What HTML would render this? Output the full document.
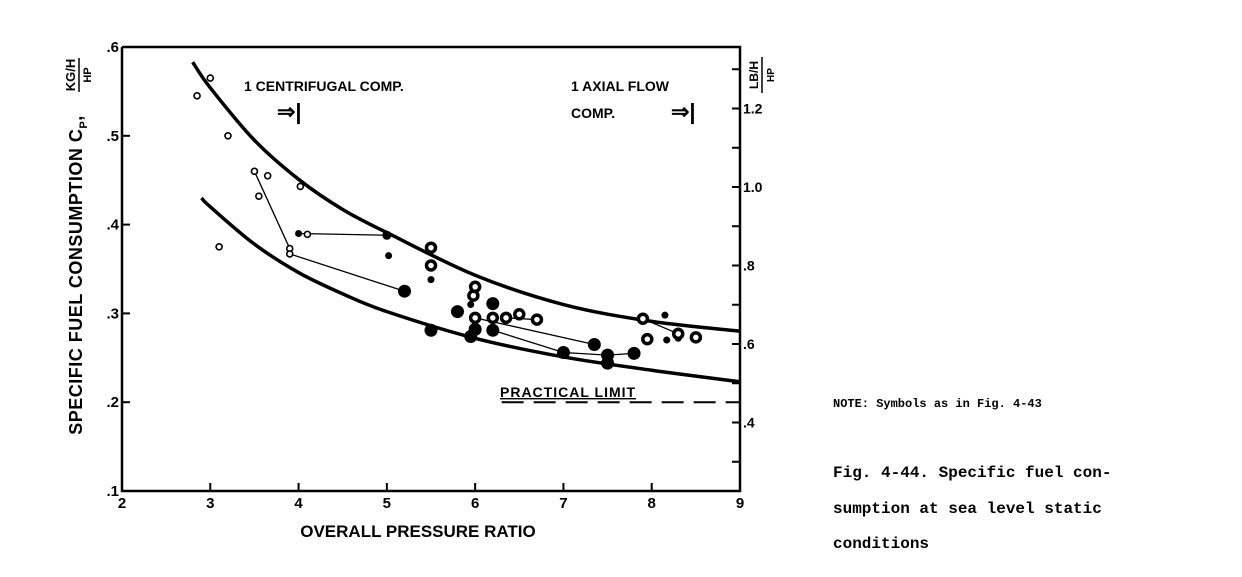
<!DOCTYPE html>
<html><head><meta charset="utf-8"><style>
body{margin:0;background:#fff;}
svg{display:block;font-family:"Liberation Sans",sans-serif;}
</style></head><body>
<svg id="chart" width="1242" height="577" viewBox="0 0 1242 577">
<g id="plot"></g>
<text x="418" y="537" font-size="17" font-weight="bold" text-anchor="middle">OVERALL PRESSURE RATIO</text>
<g transform="translate(82,275) rotate(-90)">
<text x="0" y="0" font-size="18" font-weight="bold" text-anchor="middle" letter-spacing="0.5">SPECIFIC FUEL CONSUMPTION C<tspan font-size="11" dy="5">P</tspan><tspan dy="-5">, </tspan></text>
<text x="200" y="-7" font-size="13" font-weight="bold" text-anchor="middle">KG/H</text>
<line x1="183" y1="-3" x2="217" y2="-3" stroke="#000" stroke-width="1.5"/>
<text x="200" y="9" font-size="11" font-weight="bold" text-anchor="middle">HP</text>
</g>
<g transform="translate(765,75) rotate(-90)">
<text x="0" y="-7" font-size="12" font-weight="bold" text-anchor="middle">LB/H</text>
<line x1="-18" y1="-3" x2="18" y2="-3" stroke="#000" stroke-width="1.5"/>
<text x="0" y="9" font-size="10" font-weight="bold" text-anchor="middle">HP</text>
</g>
<text x="244" y="91" font-size="14" font-weight="bold">1 CENTRIFUGAL COMP.</text>
<text x="277" y="119" font-size="22" font-weight="bold">⇒|</text>
<text x="571" y="91" font-size="14" font-weight="bold">1 AXIAL FLOW</text>
<text x="571" y="118" font-size="14" font-weight="bold">COMP.</text>
<text x="671" y="119" font-size="22" font-weight="bold">⇒|</text>
<text x="500" y="397" font-size="14" font-weight="bold" letter-spacing="1" text-decoration="underline">PRACTICAL LIMIT</text>
<g font-family="'Liberation Mono',monospace" font-weight="bold">
<text x="833" y="407" font-size="12">NOTE: Symbols as in Fig. 4-43</text>
<text x="833" y="477" font-size="16">Fig. 4-44. Specific fuel con-</text>
<text x="833" y="513" font-size="16">sumption at sea level static</text>
<text x="833" y="548" font-size="16">conditions</text>
</g>
</svg>
<script>
const xTicks=[2,3,4,5,6,7,8,9];
const yTicks=[0.1,0.2,0.3,0.4,0.5,0.6];
const yTickLabels=[".1",".2",".3",".4",".5",".6"];
const rTicks=[0.3,0.4,0.5,0.6,0.7,0.8,0.9,1.0,1.1,1.2,1.3];
const rTickLabels={"0.4":".4","0.6":".6","0.8":".8","1.0":"1.0","1.2":"1.2"};
const upperX=[2.8,3,3.5,4,4.5,5,6,7,8,9];
const upperY=[0.583,0.554,0.495,0.451,0.417,0.391,0.343,0.31,0.291,0.28];
const lowerX=[2.9,3,3.5,4,4.5,5,6,7,8,9];
const lowerY=[0.43,0.42,0.378,0.346,0.322,0.302,0.272,0.251,0.236,0.223];
const limitY=0.2;
const ptX=[2.85,3.0,3.2,3.1,3.5,3.55,3.65,3.9,3.9,4.02,4.1, 4.0,5.02,5.5,5.95,8.15,8.17,8.3,8.3, 5.0,5.5,5.5,5.2,6.0,5.98,5.8,6.2,6.0,6.2,6.35,6.5,6.7,5.5,5.95,6.0,6.2,7.0,7.35,7.5,7.5,7.8,7.9,7.95,8.5,8.3];
const ptY=[0.545,0.565,0.50,0.375,0.46,0.432,0.455,0.373,0.367,0.443,0.389, 0.39,0.365,0.338,0.31,0.298,0.27,0.272,0.28, 0.388,0.374,0.354,0.325,0.33,0.32,0.302,0.311,0.295,0.295,0.295,0.299,0.293,0.281,0.274,0.282,0.281,0.256,0.265,0.253,0.244,0.255,0.294,0.271,0.273,0.277];
const ptType=["os","os","os","os","os","os","os","os","os","os","os", "fs","fs","fs","fs","fs","fs","fs","fs", "fm","ol","ol","fl","ol","ol","fl","fl","ol","ol","ol","ol","ol","fl","fl","fl","fl","fl","fl","fl","fl","fl","ol","ol","ol","ol"];
const links=[[[3.5,0.46],[3.9,0.373]],[[3.9,0.367],[5.2,0.325]],[[4.0,0.39],[5.0,0.388]],[[6.0,0.295],[7.35,0.265]],[[6.2,0.281],[7.0,0.256],[7.5,0.253],[7.8,0.255]],[[6.35,0.295],[6.7,0.293]],[[7.9,0.294],[8.3,0.277]]];

const X0=122,X1=740,Y0=491,Y1=47;
const sx=v=>X0+(v-2)/7*(X1-X0);
const sy=v=>Y0-(v-0.1)/0.5*(Y0-Y1);
const NS="http://www.w3.org/2000/svg";
const g=document.getElementById('plot');
function mk(t,a){const e=document.createElementNS(NS,t);for(const k in a)e.setAttribute(k,a[k]);g.appendChild(e);return e;}
const sry=v=>344-(v-0.6)/0.2*78.5;
let e=mk('path',{d:`M${X0},${Y1} V${Y0} H${X1} V${Y1} H${X0}`,fill:'none',stroke:'#000','stroke-width':2.5});


xTicks.forEach(v=>{
 let t=mk('line',{x1:sx(v),x2:sx(v),y1:Y0,y2:Y0-8,stroke:'#000','stroke-width':2});
 
 
 let l=mk('text',{x:sx(v),y:Y0+17,'font-size':15,'font-weight':'bold','text-anchor':'middle'});l.textContent=v;
 
 
});
yTicks.forEach((v,i)=>{
 let t=mk('line',{x1:X0,x2:X0+8,y1:sy(v),y2:sy(v),stroke:'#000','stroke-width':2});
 
 
 let l=mk('text',{x:X0-3,y:sy(v)+5,'font-size':15,'font-weight':'bold','text-anchor':'end'});l.textContent=yTickLabels[i];
 
 
});
rTicks.forEach(v=>{
 let t=mk('line',{x1:X1-8,x2:X1,y1:sry(v),y2:sry(v),stroke:'#000','stroke-width':2});
 
 
 const key=v.toFixed(1);
 if(rTickLabels[key]){let l=mk('text',{x:X1+3,y:sry(v)+5,'font-size':14,'font-weight':'bold'});l.textContent=rTickLabels[key];
 
 }
});
function spline(xs,ys){const p=xs.map((x,i)=>[sx(x),sy(ys[i])]);let d=`M${p[0][0]},${p[0][1]}`;
 for(let i=0;i<p.length-1;i++){const a=p[i-1]||p[i],b=p[i],c=p[i+1],n=p[i+2]||c;
 d+=` C${b[0]+(c[0]-a[0])/6},${b[1]+(c[1]-a[1])/6} ${c[0]-(n[0]-b[0])/6},${c[1]-(n[1]-b[1])/6} ${c[0]},${c[1]}`;}return d;}
e=mk('path',{d:spline(upperX,upperY),fill:'none',stroke:'#000','stroke-width':3.5});


e=mk('path',{d:spline(lowerX,lowerY),fill:'none',stroke:'#000','stroke-width':3.5});


e=mk('line',{x1:sx(6.3),x2:X1,y1:sy(limitY),y2:sy(limitY),stroke:'#000','stroke-width':2,'stroke-dasharray':'22,10'});


links.forEach(L=>{
 e=mk('polyline',{points:L.map(p=>sx(p[0])+','+sy(p[1])).join(' '),fill:'none',stroke:'#000','stroke-width':1.3});
 
 
});
ptX.forEach((x,i)=>{
 const t=ptType[i];let a;
 if(t=='os')a={r:3,fill:'#fff',stroke:'#000','stroke-width':1.6};
 else if(t=='fs')a={r:3.5,fill:'#000'};
 else if(t=='fm')a={r:4.5,fill:'#000'};
 else if(t=='ol')a={r:4.5,fill:'#fff',stroke:'#000','stroke-width':3.5};
 else a={r:6.5,fill:'#000'};
 a.cx=sx(x);a.cy=sy(ptY[i]);
 e=mk('circle',a);
 
 
});
</script>
</body></html>
